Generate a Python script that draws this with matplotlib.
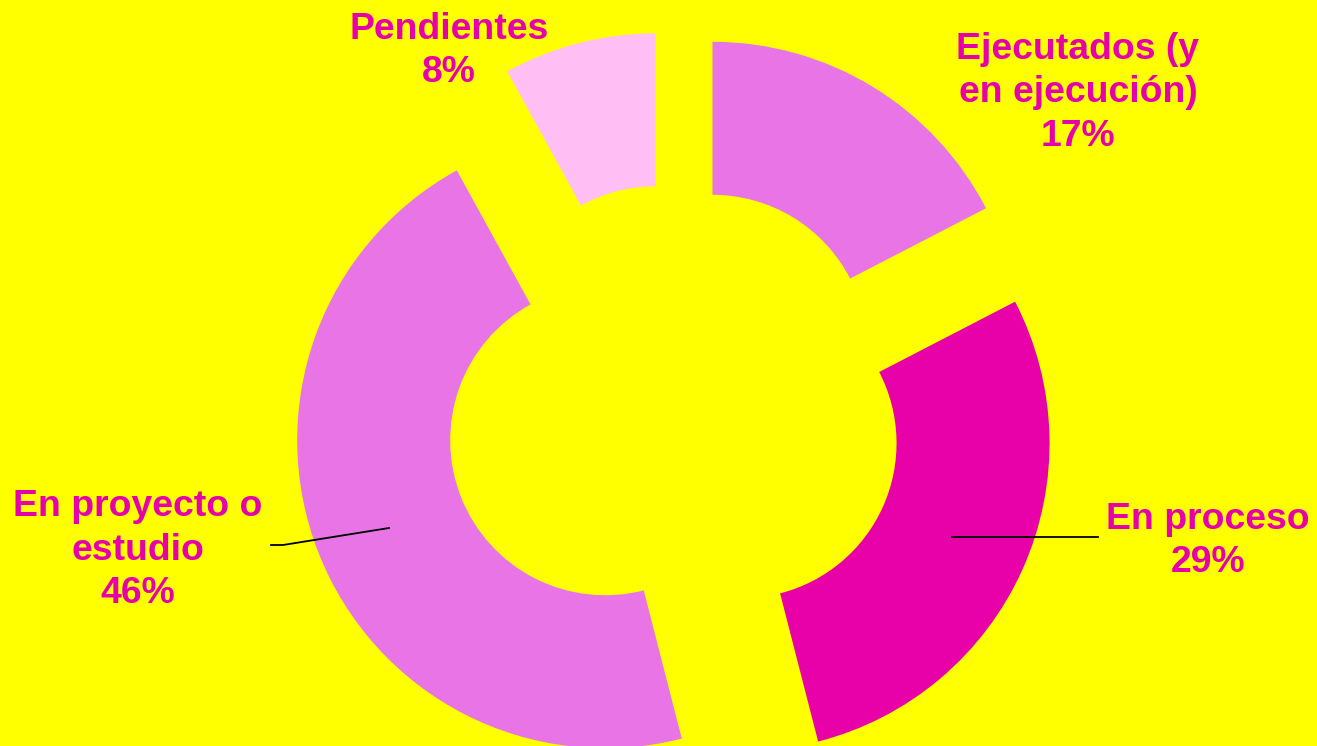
import matplotlib.pyplot as plt

categories = ["Ejecutados (y\nen ejecución)", "En proceso", "En proyecto o\nestudio", "Pendientes"]
values = [17.4, 28.6, 46.0, 8.0]
colors = ["#E874E6", "#E800A8", "#E874E6", "#FFBFF5"]

# label placement in pixel coords (y measured from bottom)
label_pos = [(1078, 653), (1208, 205), (138, 196), (449, 695)]
leaders = {
    1: [(952, 209), (1098, 209)],
    2: [(389, 218), (283, 201), (271, 201)],
}

BG = "#FFFF00"
TEXT = "#E600AC"

fig = plt.figure(figsize=(13.17, 7.46), dpi=100, facecolor=BG)
ax = fig.add_axes([0, 0, 1, 1])
ax.set_facecolor(BG)

ax.pie(
    values,
    colors=colors,
    startangle=90,
    counterclock=False,
    center=(674, 333),
    radius=308,
    explode=[74] * len(values),
    wedgeprops=dict(width=153, linewidth=0),
    frame=True,
)
ax.set_xlim(0, 1317)
ax.set_ylim(0, 746)
ax.axis("off")

for i, (cat, val) in enumerate(zip(categories, values)):
    x, y = label_pos[i]
    ax.text(x, y, f"{cat}\n{val:.0f}%", ha="center", va="center", fontsize=26.9,
            fontweight="bold", family="Liberation Sans", color=TEXT, linespacing=1.3)

for pts in leaders.values():
    xs, ys = zip(*pts)
    ax.plot(xs, ys, color="black", lw=1.3)

fig.savefig("out.png", dpi=100, facecolor=BG)
